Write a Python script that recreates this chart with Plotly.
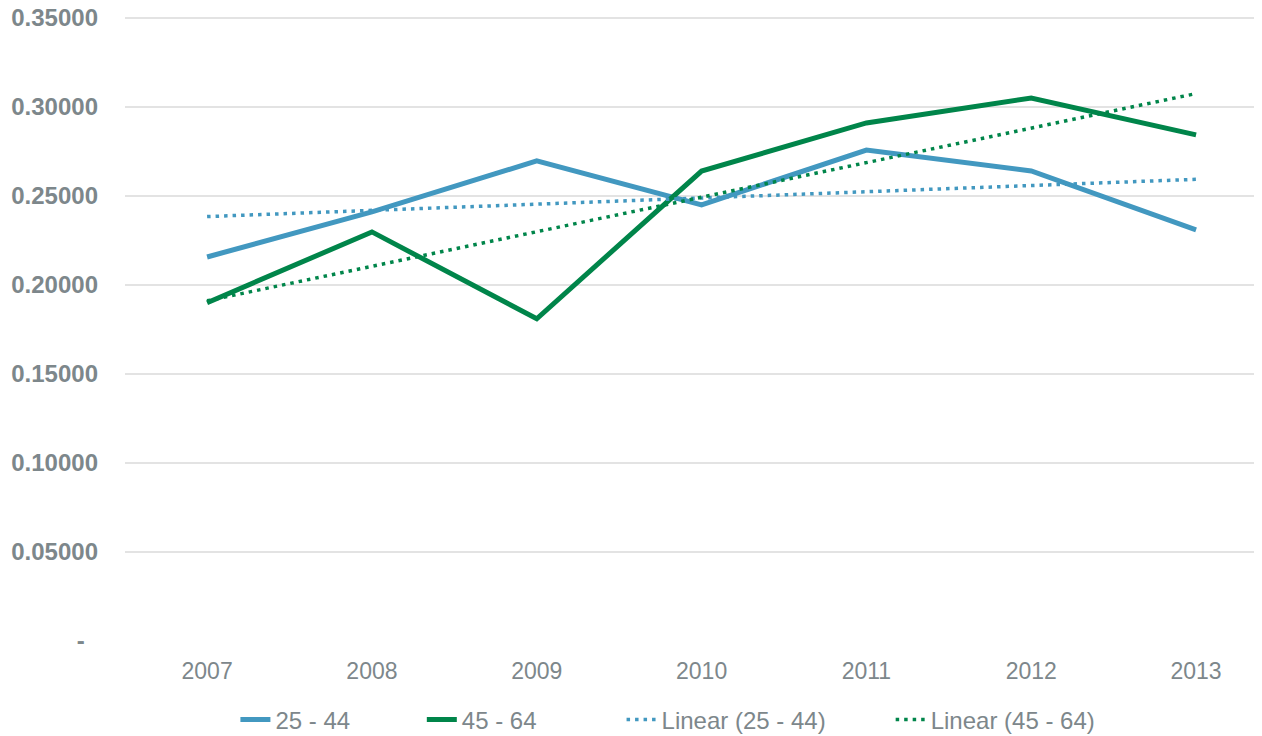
import numpy as np
import plotly.graph_objects as go

years = [2007, 2008, 2009, 2010, 2011, 2012, 2013]
s_25_44 = [0.2157, 0.2410, 0.2697, 0.2450, 0.2758, 0.2640, 0.2309]
s_45_64 = [0.1900, 0.2298, 0.1810, 0.2640, 0.2910, 0.3050, 0.2843]
y_ticks = [0, 0.05, 0.10, 0.15, 0.20, 0.25, 0.30, 0.35]
y_tick_text = ["-\u00a0\u00a0", "0.05000", "0.10000", "0.15000", "0.20000", "0.25000", "0.30000", "0.35000"]
series_names = ["25 - 44", "45 - 64", "Linear (25 - 44)", "Linear (45 - 64)"]

blue = "#4298c0"
green = "#00854a"
gray = "#7d878b"
pads = ["\u00a0" * 10, "\u00a0" * 12, "\u00a0" * 9, ""]
dot_style = "3.5px,5px"

def trend(vals):
    x = np.array(years, dtype=float)
    m, b = np.polyfit(x, np.array(vals), 1)
    return list(m * x + b)

fig = go.Figure()
fig.add_trace(go.Scatter(x=years, y=s_25_44, mode="lines", name=series_names[0] + pads[0],
                         line=dict(color=blue, width=5)))
fig.add_trace(go.Scatter(x=years, y=s_45_64, mode="lines", name=series_names[1] + pads[1],
                         line=dict(color=green, width=5)))
fig.add_trace(go.Scatter(x=years, y=trend(s_25_44), mode="lines", name=series_names[2] + pads[2],
                         line=dict(color=blue, width=3.5, dash=dot_style)))
fig.add_trace(go.Scatter(x=years, y=trend(s_45_64), mode="lines", name=series_names[3] + pads[3],
                         line=dict(color=green, width=3.5, dash=dot_style)))

fig.update_layout(
    width=1254, height=728,
    margin=dict(l=117, r=0, t=6, b=95, autoexpand=False),
    plot_bgcolor="white", paper_bgcolor="white",
    font=dict(family="Liberation Sans, Arial, sans-serif", size=23, color=gray),
    showlegend=True,
    legend=dict(orientation="h", x=0.4775, xanchor="center", y=-0.09, yanchor="top",
                font=dict(size=24, color=gray), traceorder="normal"),
    xaxis=dict(range=[2006.502, 2013.4], tickvals=years, ticktext=[str(y) for y in years],
               showgrid=False, zeroline=False, showline=False, ticks="",
               tickfont=dict(size=23, color=gray), ticklabelstandoff=14, automargin=False),
    yaxis=dict(range=[0, 0.3522], tickvals=y_ticks, ticktext=y_tick_text,
               showgrid=True, gridcolor="#e3e3e3", gridwidth=2, zeroline=False,
               showline=False, ticks="", ticklabelstandoff=26, automargin=False,
               ticklabeloverflow="allow",
               tickfont=dict(size=24, color=gray, weight="bold")),
)

fig.write_html("out.html")
